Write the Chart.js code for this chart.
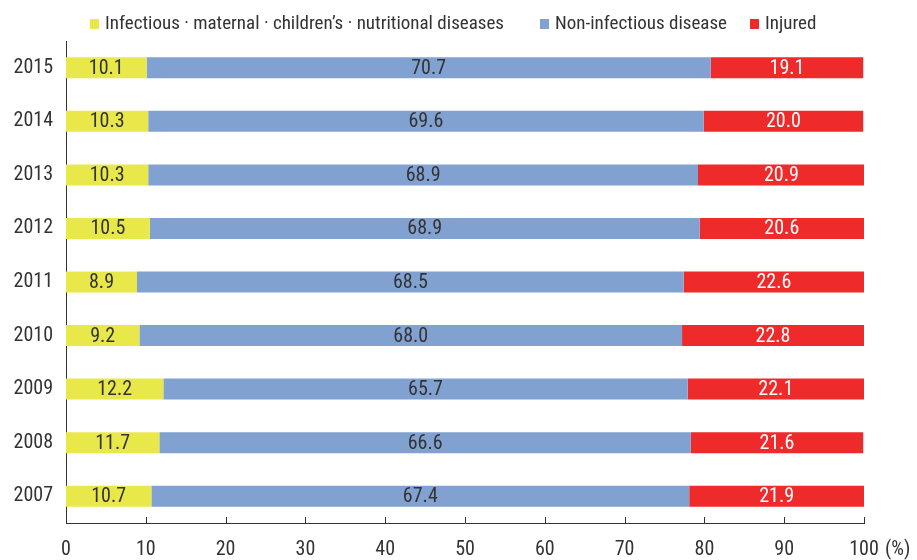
<!DOCTYPE html>
<html>
<head>
<meta charset="utf-8">
<script src="https://cdn.jsdelivr.net/npm/chart.js@4"></script>
<style>
  html, body { margin: 0; padding: 0; background: #fff; }
  #wrap { width: 917px; height: 560px; }
</style>
</head>
<body>
<div id="wrap"><canvas id="chart"></canvas></div>
<script>
// Datos (de arriba hacia abajo)
const years = ['2015', '2014', '2013', '2012', '2011', '2010', '2009', '2008', '2007'];
const infectious = [10.1, 10.3, 10.3, 10.5, 8.9, 9.2, 12.2, 11.7, 10.7];
const nonInfectious = [70.7, 69.6, 68.9, 68.9, 68.5, 68.0, 65.7, 66.6, 67.4];
const injured = [19.1, 20.0, 20.9, 20.6, 22.6, 22.8, 22.1, 21.6, 21.9];
const xTicks = [0, 10, 20, 30, 40, 50, 60, 70, 80, 90, 100];

const FONT = '"Roboto Condensed", Roboto, sans-serif';
const TEXT = '#333';

// etiquetas de valores centradas en cada segmento
const segmentLabels = {
    id: 'segmentLabels',
    afterDatasetsDraw(chart) {
        const ctx = chart.ctx;
        ctx.save();
        ctx.font = '20px ' + FONT;
        ctx.textAlign = 'center';
        ctx.textBaseline = 'middle';
        chart.data.datasets.forEach((ds, i) => {
            const meta = chart.getDatasetMeta(i);
            meta.data.forEach((bar, j) => {
                const cx = (bar.x + bar.base) / 2;
                ctx.fillStyle = ds.labelColor;
                ctx.fillText(ds.data[j].toFixed(1), cx, bar.y + 1);
            });
        });
        ctx.restore();
    }
};

// leyenda simple arriba (cuadrito + texto)
const topLegend = {
    id: 'topLegend',
    afterDraw(chart) {
        const ctx = chart.ctx;
        const lefts = [90, 540, 750];
        ctx.save();
        ctx.font = '19px ' + FONT;
        ctx.textAlign = 'left';
        ctx.textBaseline = 'middle';
        chart.data.datasets.forEach((ds, i) => {
            ctx.fillStyle = ds.backgroundColor;
            ctx.fillRect(lefts[i], 19, 9, 10);
            ctx.fillStyle = TEXT;
            ctx.fillText(ds.label, lefts[i] + 15, 24);
        });
        ctx.restore();
    }
};

// marcas del eje x hacia dentro + "(%)"
const axisExtras = {
    id: 'axisExtras',
    afterDraw(chart) {
        const ctx = chart.ctx;
        const xs = chart.scales.x;
        const y0 = xs.top;
        ctx.save();
        ctx.strokeStyle = TEXT;
        ctx.lineWidth = 1;
        xTicks.forEach(v => {
            const px = Math.round(xs.getPixelForValue(v)) + 0.5;
            ctx.beginPath();
            ctx.moveTo(px, y0);
            ctx.lineTo(px, y0 - 6);
            ctx.stroke();
        });
        ctx.fillStyle = TEXT;
        ctx.font = '20px ' + FONT;
        ctx.textAlign = 'left';
        ctx.textBaseline = 'middle';
        ctx.fillText('(%)', xs.getPixelForValue(100) + 21, y0 + 27);
        ctx.restore();
    }
};

const ctx = document.getElementById('chart');
new Chart(ctx, {
    type: 'bar',
    data: {
        labels: years,
        datasets: [
            { label: 'Infectious · maternal · children\u2019s · nutritional diseases', data: infectious, backgroundColor: '#e8e84b', labelColor: TEXT },
            { label: 'Non-infectious disease', data: nonInfectious, backgroundColor: '#81a1d1', labelColor: TEXT },
            { label: 'Injured', data: injured, backgroundColor: '#ee2a2b', labelColor: '#fff' }
        ]
    },
    options: {
        indexAxis: 'y',
        responsive: true,
        maintainAspectRatio: false,
        animation: false,
        datasets: { bar: { categoryPercentage: 1, barPercentage: 0.392 } },
        layout: { padding: { top: 41, right: 53, left: 0, bottom: 0 } },
        plugins: {
            legend: { display: false },
            tooltip: { enabled: false }
        },
        scales: {
            x: {
                stacked: true,
                min: 0,
                max: 100,
                afterBuildTicks: s => { s.ticks = xTicks.map(v => ({ value: v })); },
                grid: { display: false, drawTicks: false },
                border: { display: true, color: TEXT },
                ticks: { font: { family: FONT, size: 20 }, color: TEXT, padding: 15, maxRotation: 0 },
                afterFit: s => { s.height = 37; }
            },
            y: {
                stacked: true,
                grid: { display: false, drawTicks: false },
                border: { display: true, color: TEXT },
                ticks: { font: { family: FONT, size: 20 }, color: TEXT, padding: 13 },
                afterFit: s => { s.width = 66; }
            }
        }
    },
    plugins: [segmentLabels, topLegend, axisExtras]
});
</script>
</body>
</html>
